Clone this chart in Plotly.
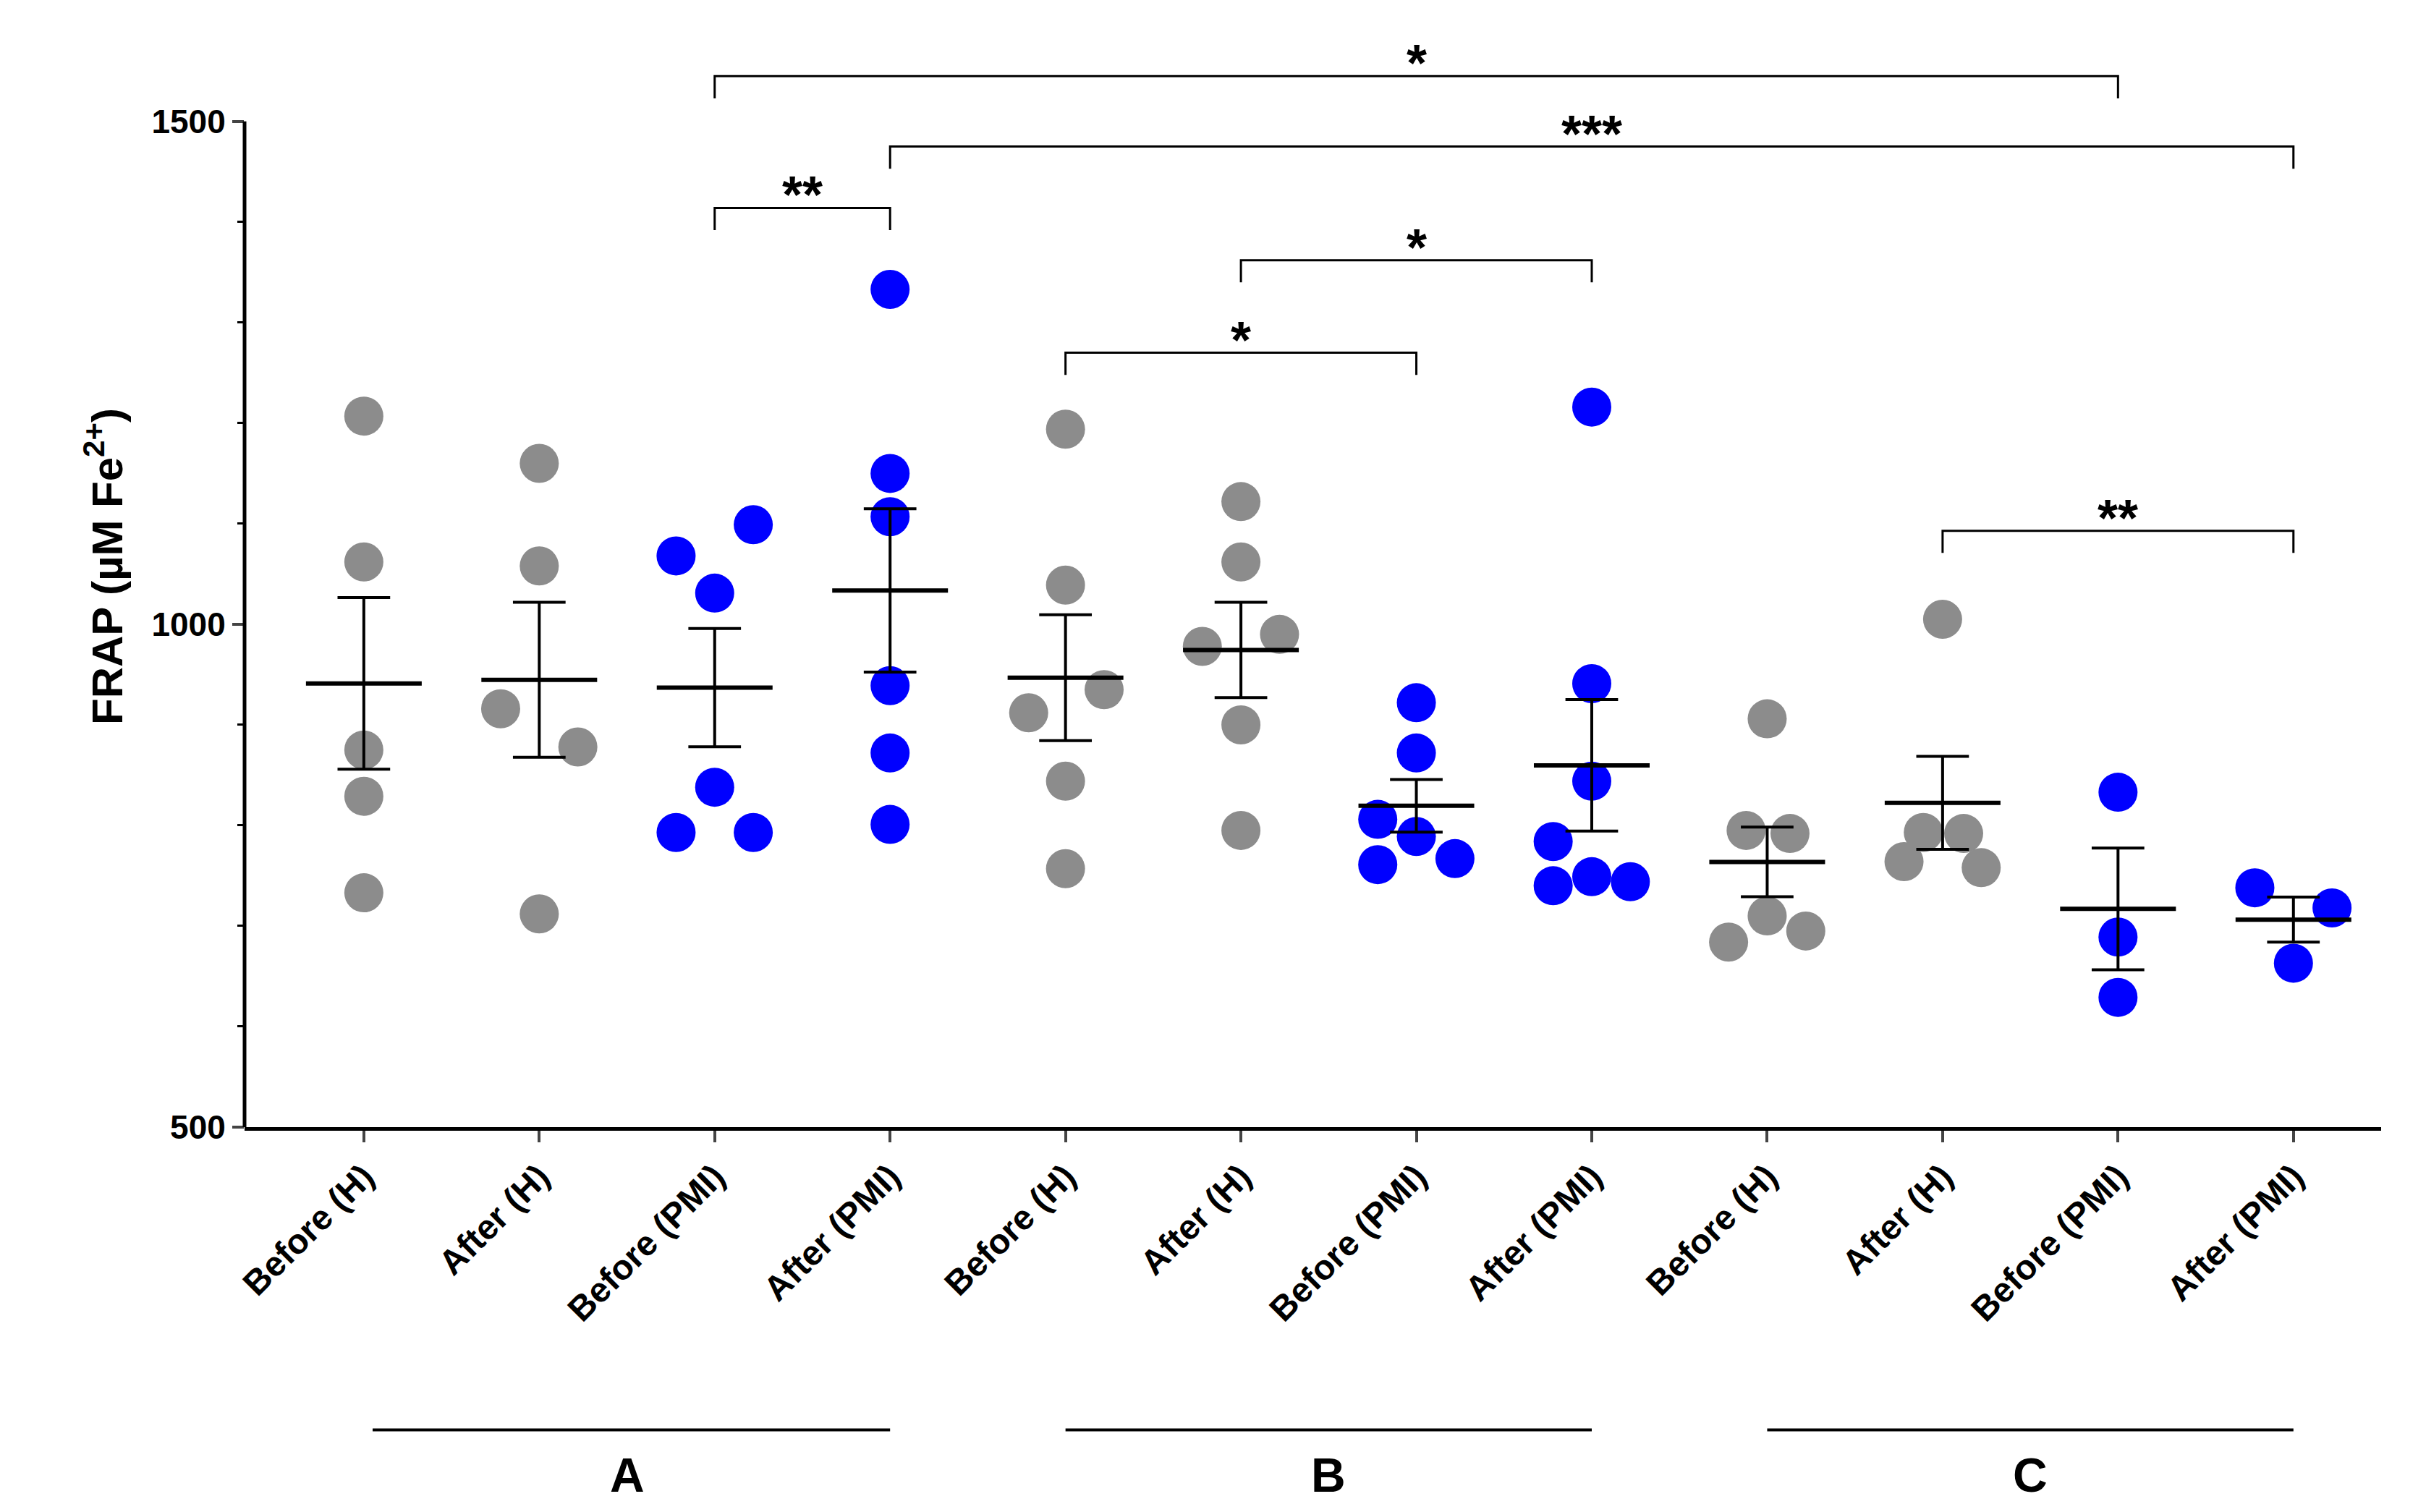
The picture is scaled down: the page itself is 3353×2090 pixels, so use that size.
import numpy as np
import plotly.graph_objects as go

categories = ["Before (H)", "After (H)", "Before (PMI)", "After (PMI)"] * 3
groups = ["A", "B", "C"]
values = [
    [1207, 1062, 875, 829, 733],
    [1160, 1058, 916, 878, 712],
    [1068, 1099, 1031, 838, 793, 793],
    [1333, 1150, 1107, 939, 872, 801],
    [1194, 1039, 912, 935, 844, 757],
    [1122, 1062, 978, 990, 900, 795],
    [922, 872, 806, 789, 761, 767],
    [1216, 941, 844, 784, 740, 749, 744],
    [906, 795, 792, 710, 684, 695],
    [1005, 764, 793, 792, 758],
    [833, 689, 629],
    [738, 718, 663],
]
jitter = [
    [0, 0, 0, 0, 0],
    [0, 0, -0.22, 0.22, 0],
    [-0.22, 0.22, 0, 0, -0.22, 0.22],
    [0, 0, 0, 0, 0, 0],
    [0, 0, -0.21, 0.22, 0, 0],
    [0, 0, -0.22, 0.22, 0, 0],
    [0, 0, -0.22, 0, -0.22, 0.22],
    [0, 0, 0, -0.22, -0.22, 0, 0.22],
    [0, -0.12, 0.13, 0, -0.22, 0.22],
    [0, -0.22, -0.11, 0.12, 0.22],
    [0, 0, 0],
    [-0.22, 0.22, 0],
]
colors = ["#8c8c8c", "#8c8c8c", "#0000ff", "#0000ff"] * 3
brackets = [(2, 10, 1545, "*"), (3, 11, 1475, "***"), (2, 3, 1414, "**"),
            (5, 7, 1362, "*"), (4, 6, 1270, "*"), (9, 11, 1093, "**")]

fig = go.Figure()
for i, v in enumerate(values):
    xs = [i + j for j in jitter[i]]
    fig.add_trace(go.Scatter(x=xs, y=v, mode="markers",
                             marker=dict(size=54, color=colors[i]), showlegend=False))
    m = float(np.mean(v)); s = float(np.std(v, ddof=1) / np.sqrt(len(v)))
    fig.add_trace(go.Scatter(x=[i - 0.33, i + 0.33], y=[m, m], mode="lines",
                             line=dict(color="black", width=6), showlegend=False))
    fig.add_trace(go.Scatter(x=[i, i, None, i - 0.15, i + 0.15, None, i - 0.15, i + 0.15],
                             y=[m - s, m + s, None, m + s, m + s, None, m - s, m - s],
                             mode="lines", line=dict(color="black", width=4), showlegend=False))

for a, b, y, t in brackets:
    fig.add_trace(go.Scatter(x=[a, a, b, b], y=[y - 22, y, y, y - 22], mode="lines",
                             line=dict(color="black", width=3), showlegend=False))
    fig.add_annotation(x=(a + b) / 2, y=y, text="<b>%s</b>" % t, showarrow=False,
                       yanchor="bottom", yshift=-24, font=dict(size=72, color="black"))

for k, g in enumerate(groups):
    x0, x1 = 4 * k + (0.05 if k == 0 else 0), 4 * k + 3
    fig.add_shape(type="line", xref="x", yref="paper", x0=x0, x1=x1, y0=-0.27, y1=-0.27,
                  line=dict(color="black", width=4))
    fig.add_annotation(x=(4 * k + 1.5), xref="x", yref="paper", y=-0.285, yanchor="top",
                       text="<b>%s</b>" % g, showarrow=False, font=dict(size=66, color="black"))

fig.add_shape(type="line", xref="paper", yref="y", x0=0, x1=0, y0=500, y1=1500,
              line=dict(color="black", width=5))

fig.update_layout(
    width=3353, height=2090, plot_bgcolor="white", paper_bgcolor="white",
    margin=dict(l=330, r=70, t=0, b=540),
    font=dict(family="Liberation Sans, Arial", color="black"),
    xaxis=dict(range=[-0.68, 11.5], tickmode="array", tickvals=list(range(12)),
               ticktext=["<b>%s</b>" % c for c in categories], tickangle=-45,
               tickfont=dict(size=48), ticks="outside", ticklen=16, tickwidth=4,
               showline=True, linecolor="black", linewidth=5, showgrid=False, zeroline=False),
    yaxis=dict(range=[500, 1615], tickvals=[500, 1000, 1500],
               ticktext=["<b>500</b>", "<b>1000</b>", "<b>1500</b>"],
               tickfont=dict(size=46), ticks="outside", ticklen=16, tickwidth=4,
               minor=dict(tickvals=[600, 700, 800, 900, 1100, 1200, 1300, 1400],
                          ticks="outside", ticklen=9, tickwidth=3, tickcolor="black"),
               showline=False, showgrid=False, zeroline=False,
               title=dict(text="<b>FRAP (µM Fe<sup>2+</sup>)</b>", font=dict(size=60), standoff=20)),
)
fig.write_html("out.html")
